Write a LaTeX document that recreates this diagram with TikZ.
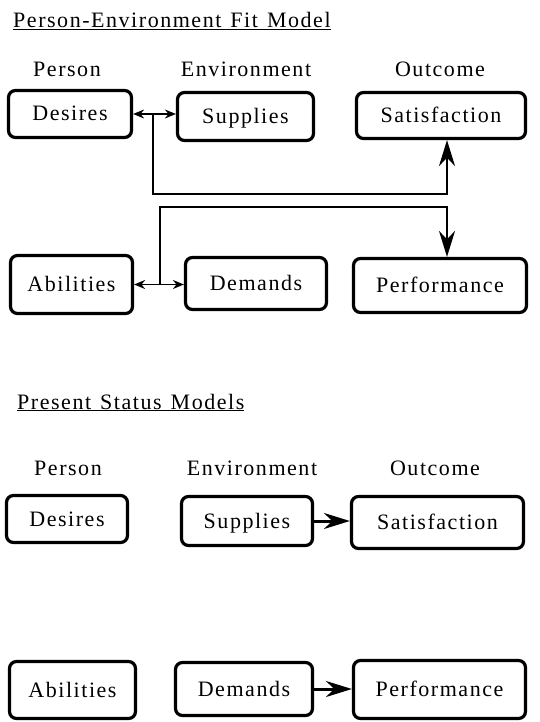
\documentclass[tikz,border=0pt]{standalone}
\usepackage{fontspec}
\setmainfont{Liberation Serif}[LetterSpace=7]
\usetikzlibrary{arrows.meta,calc}
\tikzset{
	box/.style={draw,line width=3.2pt,rounded corners=7pt,inner sep=0pt,font=\boxfont,text height=18pt,text depth=4pt},
	colhead/.style={anchor=base,inner sep=0pt,font=\boxfont},
	heading/.style={anchor=base west,inner sep=0pt,font=\boxfont},
	dbledge/.style={line width=1.5pt,{Stealth[length=11pt,width=9pt]}-{Stealth[length=11pt,width=9pt]}},
	fbedge/.style={line width=2.7pt,-{Stealth[length=26pt,width=16pt]}},
	diredge/.style={line width=3pt,-{Stealth[length=26pt,width=16pt]}}
}
\newcommand{\boxfont}{\fontsize{22}{26}\selectfont}
\newcommand{\gap}{\hspace{9pt}}

\begin{document}
\begin{tikzpicture}[x=1pt,y=-1pt]
	\useasboundingbox (0,0) rectangle (539,722);
	
	%%%P-E fit model
	\node[heading] (title1) at (13,28) {\underline{Person-Environment\gap Fit\gap Model}};
	\node[colhead] (person1) at (67,77) {Person};
	\node[colhead] (env1) at (246,77) {Environment};
	\node[colhead] (out1) at (440,77) {Outcome};
	
	\node[box,minimum width=123,minimum height=47] (desA) at (70,114) {Desires};
	\node[box,minimum width=136,minimum height=48] (supA) at (245.5,116.5) {Supplies};
	\node[box,minimum width=169,minimum height=46] (satA) at (441,115.5) {Satisfaction};
	\node[box,minimum width=122,minimum height=58] (abiA) at (71.5,284.5) {Abilities};
	\node[box,minimum width=141,minimum height=52] (demA) at (256,283.5) {Demands};
	\node[box,minimum width=173,minimum height=54] (perA) at (440,285.5) {Performance};
	
	\draw[dbledge] (desA.east) -- (desA.east -| supA.west);
	\draw[dbledge] (abiA.east) -- (abiA.east -| demA.west);
	
	\coordinate (j1) at (153,114);
	\coordinate (k1) at (447,194);
	\draw[fbedge] (j1) -- (j1 |- k1) -- (k1) -- (k1 |- satA.south);
	
	\coordinate (j2) at (160,284.5);
	\coordinate (k2) at (447,207);
	\draw[fbedge] (j2) -- (j2 |- k2) -- (k2) -- (k2 |- perA.north);
	
	%%%present status models
	\node[heading] (title2) at (17,409) {\underline{Present\gap Status\gap Models}};
	\node[colhead] (person2) at (68,475) {Person};
	\node[colhead] (env2) at (252,475) {Environment};
	\node[colhead] (out2) at (435,475) {Outcome};
	
	\node[box,minimum width=121,minimum height=47] (desB) at (67,519) {Desires};
	\node[box,minimum width=131,minimum height=49] (supB) at (247,521) {Supplies};
	\node[box,minimum width=172,minimum height=52] (satB) at (437.5,522.5) {Satisfaction};
	\node[box,minimum width=126,minimum height=57] (abiB) at (72.5,690) {Abilities};
	\node[box,minimum width=137,minimum height=53] (demB) at (244,689) {Demands};
	\node[box,minimum width=172,minimum height=58] (perB) at (439.5,689.5) {Performance};
	
	\draw[diredge] (supB.east) -- (supB.east -| satB.west);
	\draw[diredge] (demB.east) -- (demB.east -| perB.west);
	
\end{tikzpicture}
\end{document}
